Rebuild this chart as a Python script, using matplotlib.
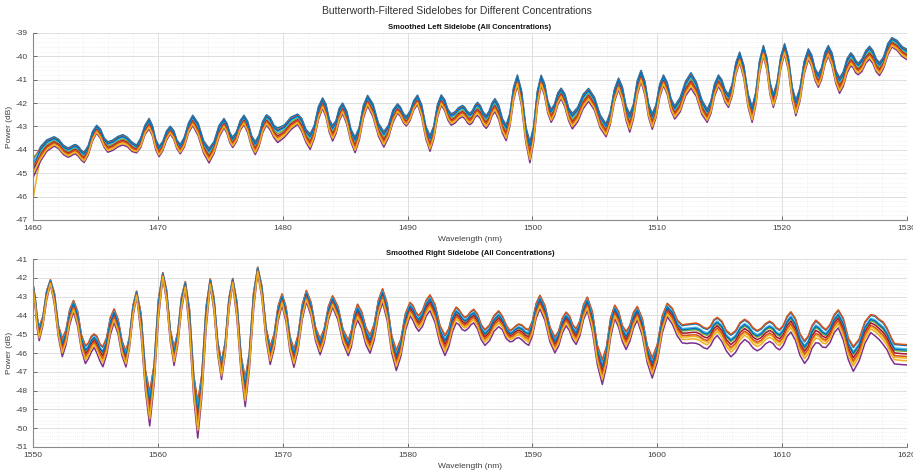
import matplotlib.pyplot as plt
import numpy as np
from matplotlib.ticker import MultipleLocator

plt.rcParams['font.family'] = ['Liberation Sans', 'DejaVu Sans']
plt.rcParams['axes.unicode_minus'] = False

# MATLAB default colour order, cycled over the concentrations
colors = ['#0072BD', '#D95319', '#EDB120', '#7E2F8E', '#77AC30',
          '#4DBEEE', '#A2142F', '#0072BD', '#D95319', '#EDB120']
# relative position of each concentration inside the bundle (+ = higher)
k_left = [1.0, 0.75, -0.55, -1.2, 0.15, 0.45, -0.2, 0.6, -0.4, -0.85]
k_right = [0.9, 1.0, -0.6, -1.4, 0.2, 0.5, -0.1, 0.35, -0.4, -0.9]
# first sample of each curve in the left sidelobe (filter edge effect)
left_start = [-44.6, -44.4, -46.1, -45.2, -44.3, -44.5, -44.9, -44.8, -44.7, -45.0]

# left sidelobe: bundle centre (dB) and half spread (dB)
left_wl = [
    1460.0, 1460.6, 1461.1, 1461.7,
    1462.07, 1462.43, 1462.8, 1463.0, 1463.2, 1463.4, 1463.63, 1463.87, 1464.1,
    1464.43, 1464.77, 1465.1, 1465.4, 1465.7, 1466.0, 1466.4, 1466.8, 1467.2,
    1467.57, 1467.93, 1468.3, 1468.63, 1468.97, 1469.3, 1469.57, 1469.83, 1470.1,
    1470.4, 1470.7, 1471.0, 1471.27, 1471.53, 1471.8, 1472.13, 1472.47, 1472.8,
    1473.23, 1473.67, 1474.1, 1474.5, 1474.9, 1475.3, 1475.53, 1475.77, 1476.0,
    1476.3, 1476.6, 1476.9, 1477.2, 1477.5, 1477.8, 1478.1, 1478.4, 1478.7,
    1479.0, 1479.3, 1479.6, 1480.13, 1480.67, 1481.2, 1481.53, 1481.87, 1482.2,
    1482.53, 1482.87, 1483.2, 1483.47, 1483.73, 1484.0, 1484.27, 1484.53, 1484.8,
    1485.13, 1485.47, 1485.8, 1486.13, 1486.47, 1486.8, 1487.23, 1487.67, 1488.1,
    1488.47, 1488.83, 1489.2, 1489.43, 1489.67, 1489.9, 1490.2, 1490.5, 1490.8,
    1491.13, 1491.47, 1491.8, 1492.1, 1492.4, 1492.7, 1492.97, 1493.23, 1493.5,
    1493.8, 1494.1, 1494.4, 1494.6, 1494.8, 1495.0, 1495.2, 1495.4, 1495.6,
    1495.83, 1496.07, 1496.3, 1496.53, 1496.77, 1497.0, 1497.3, 1497.6, 1497.9,
    1498.2, 1498.5, 1498.8, 1499.13, 1499.47, 1499.8, 1500.1, 1500.4, 1500.7,
    1500.97, 1501.23, 1501.5, 1501.77, 1502.03, 1502.3, 1502.6, 1502.9, 1503.2,
    1503.63, 1504.07, 1504.5, 1504.97, 1505.43, 1505.9, 1506.23, 1506.57, 1506.9,
    1507.2, 1507.5, 1507.8, 1508.1, 1508.4, 1508.7, 1509.0, 1509.3, 1509.6,
    1509.9, 1510.2, 1510.5, 1510.8, 1511.1, 1511.4, 1511.83, 1512.27, 1512.7,
    1513.13, 1513.57, 1514.0, 1514.3, 1514.6, 1514.9, 1515.17, 1515.43, 1515.7,
    1516.0, 1516.3, 1516.6, 1516.93, 1517.27, 1517.6, 1517.9, 1518.2, 1518.5,
    1518.77, 1519.03, 1519.3, 1519.6, 1519.9, 1520.2, 1520.5, 1520.8, 1521.1,
    1521.43, 1521.77, 1522.1, 1522.37, 1522.63, 1522.9, 1523.17, 1523.43, 1523.7,
    1524.0, 1524.3, 1524.6, 1524.9, 1525.2, 1525.5, 1525.7, 1525.9, 1526.1,
    1526.4, 1526.7, 1527.0, 1527.27, 1527.53, 1527.8, 1528.13, 1528.47, 1528.8,
    1529.2, 1529.6, 1530.0]
left_db = [
    -44.70, -44.15, -43.80, -43.62,
    -43.74, -43.98, -44.10, -44.06, -43.99, -43.95, -44.04, -44.21, -44.30,
    -44.00, -43.40, -43.10, -43.29, -43.67, -43.86, -43.78, -43.63, -43.55,
    -43.65, -43.85, -43.95, -43.68, -43.13, -42.86, -43.16, -43.75, -44.05,
    -43.82, -43.37, -43.14, -43.34, -43.75, -43.95, -43.64, -43.03, -42.72,
    -43.10, -43.85, -44.22, -43.88, -43.19, -42.84, -43.05, -43.46, -43.66,
    -43.42, -42.94, -42.70, -43.00, -43.60, -43.90, -43.60, -43.00, -42.70,
    -42.86, -43.19, -43.35, -43.18, -42.84, -42.67, -42.91, -43.38, -43.62,
    -43.21, -42.39, -41.98, -42.30, -42.94, -43.26, -43.00, -42.47, -42.20,
    -42.59, -43.37, -43.76, -43.29, -42.34, -41.87, -42.28, -43.11, -43.52,
    -43.19, -42.54, -42.21, -42.35, -42.62, -42.76, -42.53, -42.07, -41.84,
    -42.31, -43.24, -43.70, -43.24, -42.31, -41.85, -42.06, -42.47, -42.68,
    -42.59, -42.41, -42.32, -42.41, -42.58, -42.66, -42.55, -42.33, -42.22,
    -42.36, -42.64, -42.78, -42.60, -42.24, -42.06, -42.36, -42.95, -43.24,
    -42.68, -41.56, -41.00, -41.77, -43.30, -44.07, -43.31, -41.78, -41.01,
    -41.39, -42.14, -42.52, -42.28, -41.80, -41.56, -41.86, -42.45, -42.74,
    -42.46, -41.90, -41.62, -42.00, -42.76, -43.14, -42.64, -41.65, -41.15,
    -41.57, -42.40, -42.82, -42.32, -41.32, -40.82, -41.31, -42.28, -42.76,
    -42.32, -41.44, -41.00, -41.35, -42.04, -42.38, -42.04, -41.35, -41.00,
    -41.38, -42.14, -42.52, -42.15, -41.40, -41.02, -41.24, -41.67, -41.88,
    -41.42, -40.49, -40.02, -40.63, -41.85, -42.46, -41.78, -40.42, -39.74,
    -40.28, -41.35, -41.88, -41.33, -40.22, -39.66, -40.29, -41.55, -42.18,
    -41.61, -40.46, -39.88, -40.17, -40.74, -41.02, -40.70, -40.06, -39.74,
    -40.11, -40.85, -41.22, -40.94, -40.38, -40.10, -40.21, -40.42, -40.52,
    -40.35, -40.00, -39.82, -40.00, -40.35, -40.52, -40.24, -39.67, -39.38,
    -39.51, -39.77, -39.90]
left_spread = [
    0.35, 0.28, 0.22, 0.18,
    0.18, 0.18, 0.18, 0.18, 0.18, 0.18, 0.19, 0.19, 0.20,
    0.18, 0.18, 0.15, 0.18, 0.18, 0.20, 0.20, 0.20, 0.20,
    0.18, 0.18, 0.15, 0.18, 0.18, 0.20, 0.20, 0.20, 0.20,
    0.18, 0.18, 0.15, 0.17, 0.17, 0.18, 0.19, 0.19, 0.20,
    0.24, 0.24, 0.28, 0.23, 0.23, 0.18, 0.19, 0.19, 0.20,
    0.19, 0.19, 0.18, 0.22, 0.22, 0.25, 0.22, 0.22, 0.20,
    0.24, 0.24, 0.28, 0.24, 0.24, 0.20, 0.25, 0.25, 0.30,
    0.25, 0.25, 0.20, 0.25, 0.25, 0.30, 0.25, 0.25, 0.20,
    0.25, 0.25, 0.30, 0.25, 0.25, 0.20, 0.25, 0.25, 0.30,
    0.24, 0.24, 0.18, 0.18, 0.18, 0.18, 0.18, 0.18, 0.18,
    0.24, 0.24, 0.30, 0.25, 0.25, 0.20, 0.21, 0.21, 0.22,
    0.22, 0.22, 0.22, 0.22, 0.22, 0.22, 0.23, 0.23, 0.25,
    0.25, 0.25, 0.25, 0.25, 0.25, 0.25, 0.28, 0.28, 0.30,
    0.25, 0.25, 0.20, 0.30, 0.30, 0.40, 0.30, 0.30, 0.20,
    0.23, 0.23, 0.25, 0.23, 0.23, 0.20, 0.25, 0.25, 0.30,
    0.28, 0.28, 0.25, 0.25, 0.25, 0.25, 0.24, 0.24, 0.22,
    0.28, 0.28, 0.35, 0.28, 0.28, 0.22, 0.26, 0.26, 0.30,
    0.25, 0.25, 0.20, 0.23, 0.23, 0.25, 0.28, 0.28, 0.30,
    0.28, 0.28, 0.25, 0.24, 0.24, 0.22, 0.24, 0.24, 0.25,
    0.23, 0.23, 0.20, 0.25, 0.25, 0.30, 0.25, 0.25, 0.20,
    0.23, 0.23, 0.25, 0.23, 0.23, 0.20, 0.25, 0.25, 0.30,
    0.25, 0.25, 0.20, 0.23, 0.23, 0.25, 0.23, 0.23, 0.20,
    0.25, 0.25, 0.30, 0.28, 0.28, 0.25, 0.24, 0.24, 0.22,
    0.24, 0.24, 0.25, 0.25, 0.25, 0.25, 0.22, 0.22, 0.18,
    0.19, 0.19, 0.20]

# right sidelobe: bundle centre (dB) and half spread (dB)
right_wl = [
    1550.0, 1550.17, 1550.33, 1550.5,
    1550.8, 1551.1, 1551.4, 1551.72, 1552.03, 1552.35, 1552.65, 1552.95, 1553.25,
    1553.57, 1553.88, 1554.2, 1554.43, 1554.67, 1554.9, 1555.13, 1555.37, 1555.6,
    1555.9, 1556.2, 1556.5, 1556.82, 1557.13, 1557.45, 1557.73, 1558.02, 1558.3,
    1558.65, 1559.0, 1559.35, 1559.7, 1560.05, 1560.4, 1560.7, 1561.0, 1561.3,
    1561.6, 1561.9, 1562.2, 1562.53, 1562.87, 1563.2, 1563.53, 1563.87, 1564.2,
    1564.5, 1564.8, 1565.1, 1565.4, 1565.7, 1566.0, 1566.33, 1566.67, 1567.0,
    1567.33, 1567.67, 1568.0, 1568.33, 1568.67, 1569.0, 1569.32, 1569.63, 1569.95,
    1570.27, 1570.58, 1570.9, 1571.23, 1571.57, 1571.9, 1572.27, 1572.63, 1573.0,
    1573.33, 1573.67, 1574.0, 1574.42, 1574.83, 1575.25, 1575.5, 1575.75, 1576.0,
    1576.33, 1576.67, 1577.0, 1577.33, 1577.67, 1578.0, 1578.37, 1578.73, 1579.1,
    1579.47, 1579.83, 1580.2, 1580.43, 1580.67, 1580.9, 1581.2, 1581.5, 1581.8,
    1582.2, 1582.6, 1583.0, 1583.3, 1583.6, 1583.9, 1584.13, 1584.37, 1584.6,
    1584.83, 1585.07, 1585.3, 1585.6, 1585.9, 1586.2, 1586.57, 1586.93, 1587.3,
    1587.6, 1587.9, 1588.2, 1588.43, 1588.67, 1588.9, 1589.17, 1589.43, 1589.7,
    1590.0, 1590.3, 1590.6, 1591.0, 1591.4, 1591.8, 1592.1, 1592.4, 1592.7,
    1592.97, 1593.23, 1593.5, 1593.8, 1594.1, 1594.4, 1594.8, 1595.2, 1595.6,
    1595.93, 1596.27, 1596.6, 1596.9, 1597.2, 1597.5, 1597.8, 1598.1, 1598.4,
    1598.8, 1599.2, 1599.6, 1600.0, 1600.4, 1600.8, 1601.2, 1601.6, 1602.0,
    1602.37, 1602.73, 1603.1, 1603.4, 1603.7, 1604.0, 1604.27, 1604.53, 1604.8,
    1605.17, 1605.53, 1605.9, 1606.27, 1606.63, 1607.0, 1607.33, 1607.67, 1608.0,
    1608.33, 1608.67, 1609.0, 1609.27, 1609.53, 1609.8, 1610.1, 1610.4, 1610.7,
    1611.07, 1611.43, 1611.8, 1612.1, 1612.4, 1612.7, 1612.97, 1613.23, 1613.5,
    1613.83, 1614.17, 1614.5, 1614.9, 1615.3, 1615.7, 1616.17, 1616.63, 1617.1,
    1617.43, 1617.77, 1618.1, 1618.4, 1618.7, 1619.0, 1619.33, 1619.67, 1620.0]
right_db = [
    -42.42, -43.20, -44.30, -44.92,
    -44.24, -42.88, -42.20, -43.06, -44.77, -45.63, -45.09, -44.00, -43.45,
    -44.09, -45.36, -46.00, -45.82, -45.46, -45.28, -45.49, -45.90, -46.10,
    -45.56, -44.49, -43.95, -44.53, -45.68, -46.25, -45.39, -43.68, -42.82,
    -44.32, -47.33, -48.83, -47.08, -43.57, -41.82, -42.89, -45.03, -46.10,
    -45.16, -43.29, -42.35, -44.11, -47.64, -49.40, -47.60, -44.00, -42.20,
    -43.36, -45.69, -46.85, -45.68, -43.33, -42.15, -43.61, -46.52, -47.98,
    -46.37, -43.16, -41.55, -42.68, -44.93, -46.05, -45.31, -43.84, -43.10,
    -43.88, -45.43, -46.20, -45.38, -43.74, -42.92, -43.59, -44.93, -45.60,
    -45.00, -43.80, -43.20, -43.81, -45.04, -45.65, -45.18, -44.23, -43.75,
    -44.18, -45.03, -45.45, -44.81, -43.52, -42.88, -43.74, -45.45, -46.30,
    -45.63, -44.28, -43.60, -43.79, -44.16, -44.35, -44.08, -43.53, -43.25,
    -43.81, -44.94, -45.50, -45.10, -44.30, -43.90, -44.03, -44.28, -44.40,
    -44.29, -44.08, -43.97, -44.25, -44.82, -45.10, -44.85, -44.35, -44.10,
    -44.34, -44.81, -45.05, -44.98, -44.83, -44.75, -44.84, -45.01, -45.10,
    -44.63, -43.69, -43.22, -43.79, -44.93, -45.50, -45.16, -44.47, -44.12,
    -44.35, -44.82, -45.05, -44.62, -43.75, -43.32, -44.22, -46.01, -46.90,
    -46.11, -44.54, -43.75, -44.13, -44.88, -45.25, -44.89, -44.18, -43.82,
    -44.54, -45.98, -46.70, -45.94, -44.41, -43.65, -43.96, -44.59, -44.90,
    -44.89, -44.86, -44.85, -44.93, -45.08, -45.15, -44.99, -44.66, -44.50,
    -44.75, -45.25, -45.50, -45.29, -44.86, -44.65, -44.80, -45.10, -45.25,
    -45.13, -44.88, -44.75, -44.86, -45.09, -45.20, -44.96, -44.49, -44.25,
    -44.65, -45.45, -45.85, -45.58, -45.03, -44.75, -44.85, -45.05, -45.15,
    -44.89, -44.36, -44.10, -44.63, -45.68, -46.20, -45.74, -44.81, -44.35,
    -44.45, -44.65, -44.85, -45.15, -45.60, -45.95, -45.97, -45.99, -46.00]
right_spread = [
    0.12, 0.18, 0.25, 0.30,
    0.20, 0.20, 0.10, 0.25, 0.25, 0.40, 0.33, 0.33, 0.25,
    0.33, 0.33, 0.40, 0.35, 0.35, 0.30, 0.38, 0.38, 0.45,
    0.38, 0.38, 0.30, 0.33, 0.33, 0.35, 0.24, 0.24, 0.12,
    0.44, 0.44, 0.75, 0.43, 0.43, 0.10, 0.25, 0.25, 0.40,
    0.28, 0.28, 0.15, 0.48, 0.48, 0.80, 0.48, 0.48, 0.15,
    0.28, 0.28, 0.40, 0.26, 0.26, 0.12, 0.37, 0.37, 0.62,
    0.37, 0.37, 0.12, 0.26, 0.26, 0.40, 0.33, 0.33, 0.25,
    0.33, 0.33, 0.40, 0.33, 0.33, 0.25, 0.30, 0.30, 0.35,
    0.30, 0.30, 0.25, 0.30, 0.30, 0.35, 0.35, 0.35, 0.35,
    0.38, 0.38, 0.40, 0.35, 0.35, 0.30, 0.38, 0.38, 0.45,
    0.38, 0.38, 0.30, 0.33, 0.33, 0.35, 0.35, 0.35, 0.35,
    0.40, 0.40, 0.45, 0.40, 0.40, 0.35, 0.33, 0.33, 0.30,
    0.30, 0.30, 0.30, 0.33, 0.33, 0.35, 0.35, 0.35, 0.35,
    0.30, 0.30, 0.25, 0.28, 0.28, 0.30, 0.33, 0.33, 0.35,
    0.33, 0.33, 0.30, 0.33, 0.33, 0.35, 0.33, 0.33, 0.30,
    0.33, 0.33, 0.35, 0.33, 0.33, 0.30, 0.43, 0.43, 0.55,
    0.43, 0.43, 0.30, 0.35, 0.35, 0.40, 0.35, 0.35, 0.30,
    0.38, 0.38, 0.45, 0.38, 0.38, 0.30, 0.35, 0.35, 0.40,
    0.43, 0.43, 0.45, 0.45, 0.45, 0.45, 0.43, 0.43, 0.40,
    0.45, 0.45, 0.50, 0.48, 0.48, 0.45, 0.45, 0.45, 0.45,
    0.45, 0.45, 0.45, 0.45, 0.45, 0.45, 0.45, 0.45, 0.45,
    0.48, 0.48, 0.50, 0.50, 0.50, 0.50, 0.45, 0.45, 0.40,
    0.40, 0.40, 0.40, 0.48, 0.48, 0.55, 0.48, 0.48, 0.40,
    0.45, 0.45, 0.50, 0.48, 0.48, 0.45, 0.45, 0.45, 0.45]

grey_txt = '#404040'
grey_ax = '#8a8a8a'


def style_axes(ax, xlim, ylim, title):
    ax.set_xlim(xlim)
    ax.set_ylim(ylim)
    ax.xaxis.set_major_locator(MultipleLocator(10))
    ax.xaxis.set_minor_locator(MultipleLocator(2))
    ax.yaxis.set_major_locator(MultipleLocator(1))
    ax.yaxis.set_minor_locator(MultipleLocator(0.2))
    ax.grid(which='major', color='#dedede', lw=0.7)
    ax.grid(which='minor', color='#e4e4e4', lw=0.5, ls=(0, (1, 2)))
    ax.set_axisbelow(True)
    for s in ['top', 'right']:
        ax.spines[s].set_visible(False)
    for s in ['left', 'bottom']:
        ax.spines[s].set_color(grey_ax)
        ax.spines[s].set_linewidth(0.8)
    ax.tick_params(which='major', direction='in', length=3, width=0.6,
                   color='#555555', labelcolor=grey_txt, labelsize=6)
    ax.tick_params(which='minor', length=0)
    ax.set_title(title, fontsize=5.5, fontweight='bold', color='#111111', pad=3)
    ax.set_xlabel('Wavelength (nm)', fontsize=6, color=grey_txt, labelpad=3)
    ax.set_ylabel('Power (dB)', fontsize=6, color=grey_txt)
    ax.yaxis.set_label_coords(-0.023, 0.5)


fig = plt.figure(figsize=(9.13, 4.72), dpi=100)
ax1 = fig.add_axes([0.0361, 0.5339, 0.9573, 0.3962])
ax2 = fig.add_axes([0.0361, 0.0530, 0.9573, 0.3980])

assert len(left_wl) == len(left_db) == len(left_spread)
assert len(right_wl) == len(right_db) == len(right_spread)

lb = np.array(left_db)
ls_ = np.array(left_spread)
for i, c in enumerate(colors):
    y = lb + k_left[i] * ls_
    y[0] = left_start[i]
    ax1.plot(left_wl, y, color=c, lw=1.1)

rb = np.array(right_db)
rs = np.array(right_spread)
for i, c in enumerate(colors):
    y = rb + k_right[i] * rs
    ax2.plot(right_wl, y, color=c, lw=1.1)

style_axes(ax1, (1460, 1530), (-47, -39), 'Smoothed Left Sidelobe (All Concentrations)')
style_axes(ax2, (1550, 1620), (-51, -41), 'Smoothed Right Sidelobe (All Concentrations)')

fig.text(0.5, 1 - 11 / 472, 'Butterworth-Filtered Sidelobes for Different Concentrations',
         ha='center', va='center', fontsize=7.5, color='#333333')

fig.savefig('out.png', dpi=100)
